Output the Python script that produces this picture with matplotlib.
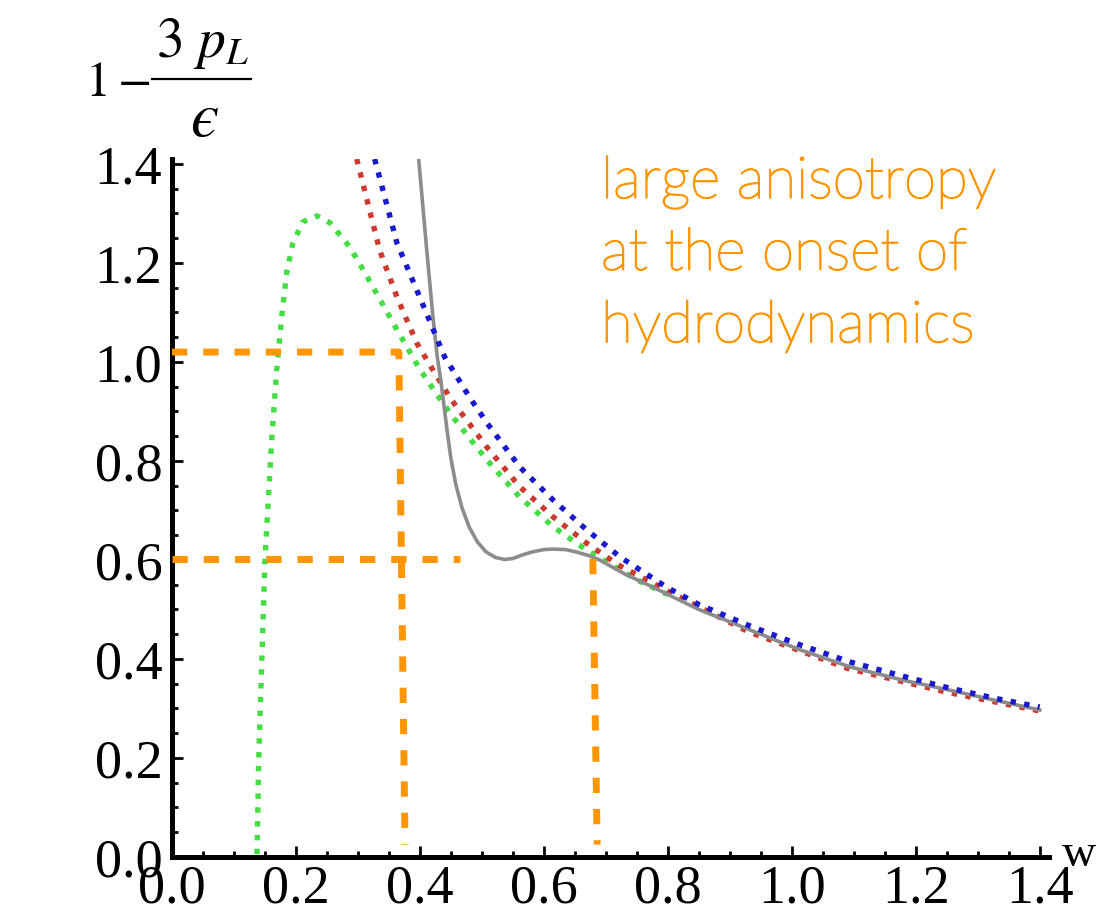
import numpy as np
import matplotlib
matplotlib.use("Agg")
import matplotlib.pyplot as plt
import matplotlib.patheffects as pe
from matplotlib.lines import Line2D
from matplotlib.ticker import MultipleLocator, FormatStrFormatter

plt.rcParams["font.family"] = "Liberation Serif"
plt.rcParams["mathtext.fontset"] = "stix"

# curves: w = tau*T, value = 1 - 3 p_L / eps
w_green = [0.136, 0.137, 0.140, 0.145, 0.150, 0.161, 0.169, 0.177, 0.185, 0.195, 0.211, 0.234,
           0.255, 0.287, 0.315, 0.363, 0.400, 0.427, 0.453, 0.508, 0.561, 0.615, 0.669, 0.690,
           0.750, 0.800]
v_green = [-0.05, 0.0, 0.20, 0.40, 0.60, 0.846, 0.984, 1.091, 1.180, 1.240, 1.283, 1.295,
           1.281, 1.232, 1.172, 1.065, 0.985, 0.935, 0.889, 0.802, 0.727, 0.667, 0.620, 0.604,
           0.560, 0.530]

w_red = [0.298, 0.335, 0.363, 0.395, 0.418, 0.450, 0.508, 0.561, 0.615, 0.669, 0.720, 0.800,
         0.930, 1.090, 1.250, 1.400]
v_red = [1.41, 1.226, 1.131, 1.038, 0.990, 0.925, 0.828, 0.748, 0.687, 0.634, 0.590, 0.537,
         0.455, 0.381, 0.333, 0.295]

w_blue = [0.327, 0.363, 0.395, 0.440, 0.481, 0.508, 0.561, 0.615, 0.669, 0.723, 0.798, 0.850,
          0.932, 1.010, 1.094, 1.180, 1.255, 1.330, 1.400]
v_blue = [1.41, 1.240, 1.145, 1.010, 0.927, 0.877, 0.788, 0.721, 0.661, 0.606, 0.545, 0.510,
          0.467, 0.430, 0.394, 0.365, 0.341, 0.320, 0.303]

w_gray = [0.398, 0.411, 0.421, 0.428, 0.434, 0.439, 0.444, 0.450, 0.458, 0.468, 0.480, 0.493,
          0.507, 0.522, 0.537, 0.550, 0.565, 0.580, 0.600, 0.615, 0.635, 0.653, 0.672, 0.690,
          0.730, 0.771, 0.850, 0.932, 1.010, 1.094, 1.180, 1.255, 1.330, 1.400]
v_gray = [1.41, 1.226, 1.091, 1.010, 0.960, 0.910, 0.860, 0.805, 0.752, 0.705, 0.665, 0.636,
          0.616, 0.605, 0.601, 0.603, 0.610, 0.616, 0.621, 0.622, 0.621, 0.616, 0.609, 0.600,
          0.572, 0.548, 0.500, 0.459, 0.420, 0.384, 0.357, 0.337, 0.316, 0.297]

# orange guide lines (hand drawn in the original)
guide_upper_x = [0.0, 0.366, 0.366, 0.376]
guide_upper_y = [1.02, 1.02, 1.02, 0.025]
guide_lower_x = [0.0, 0.465]
guide_lower_y = [0.602, 0.602]
guide_right_x = [0.679, 0.686]
guide_right_y = [0.602, 0.025]

note = "large anisotropy\nat the onset of\nhydrodynamics"

orange = "#ff9500"
W, H = 1112, 914

fig = plt.figure(figsize=(11.12, 9.14), dpi=100)
ax = fig.add_axes([172 / W, 1 - 857 / H, 877 / W, 698 / H])

dot = (0, (1.0, 1.55))
ax.plot(w_green, v_green, color="#44dd44", lw=3.9, linestyle=dot, zorder=2)
ax.plot(w_red, v_red, color="#cc3a30", lw=3.9, linestyle=dot, zorder=3)
ax.plot(w_gray, v_gray, color="#8c8c8c", lw=2.6, zorder=4)
ax.plot(w_blue, v_blue, color="#1a1acc", lw=3.9, linestyle=dot, zorder=5)

dash = (0, (2.2, 2.3))
for gx, gy in [(guide_upper_x, guide_upper_y), (guide_lower_x, guide_lower_y),
               (guide_right_x, guide_right_y)]:
    ax.plot(gx, gy, color=orange, lw=5, linestyle=dash, zorder=6, solid_capstyle="butt")

ax.set_xlim(0, 1.415)
ax.set_ylim(0, 1.41)
ax.spines["top"].set_visible(False)
ax.spines["right"].set_visible(False)
ax.spines["left"].set_linewidth(3.6)
ax.spines["bottom"].set_linewidth(3.6)
ax.xaxis.set_major_locator(MultipleLocator(0.2))
ax.xaxis.set_minor_locator(MultipleLocator(0.05))
ax.yaxis.set_major_locator(MultipleLocator(0.2))
ax.yaxis.set_minor_locator(MultipleLocator(0.05))
ax.xaxis.set_major_formatter(FormatStrFormatter("%.1f"))
ax.yaxis.set_major_formatter(FormatStrFormatter("%.1f"))
ax.tick_params(which="major", direction="in", length=8, width=2, labelsize=39, pad=5)
ax.tick_params(which="minor", direction="in", length=4.5, width=2)
ax.tick_params(axis="y", which="major", pad=7)

fig.text(1062 / W, 1 - 866 / H, "w", fontsize=34, ha="left", va="baseline")

# y label 1 - 3 p_L / eps, built as a stacked fraction
fig.text(85 / W, 1 - 96 / H, "$1-$", fontsize=36, ha="left", va="baseline")
fig.add_artist(Line2D([152 / W, 251 / W], [1 - 79 / H, 1 - 79 / H], color="black", lw=1.6))
fig.text(202 / W, 1 - 57 / H, "$3\\ p_L$", fontsize=40, ha="center", va="baseline")
fig.text(204 / W, 1 - 136 / H, "$\u03f5$", fontsize=46, ha="center", va="baseline")

fig.text(601 / W, 1 - 156 / H, note, fontsize=42, color=orange, ha="left",
         va="top", family="Lato", fontweight="light", linespacing=1.47,
         multialignment="left",
         path_effects=[pe.withStroke(linewidth=1.1, foreground=orange)])

fig.savefig("out.png", dpi=100)
